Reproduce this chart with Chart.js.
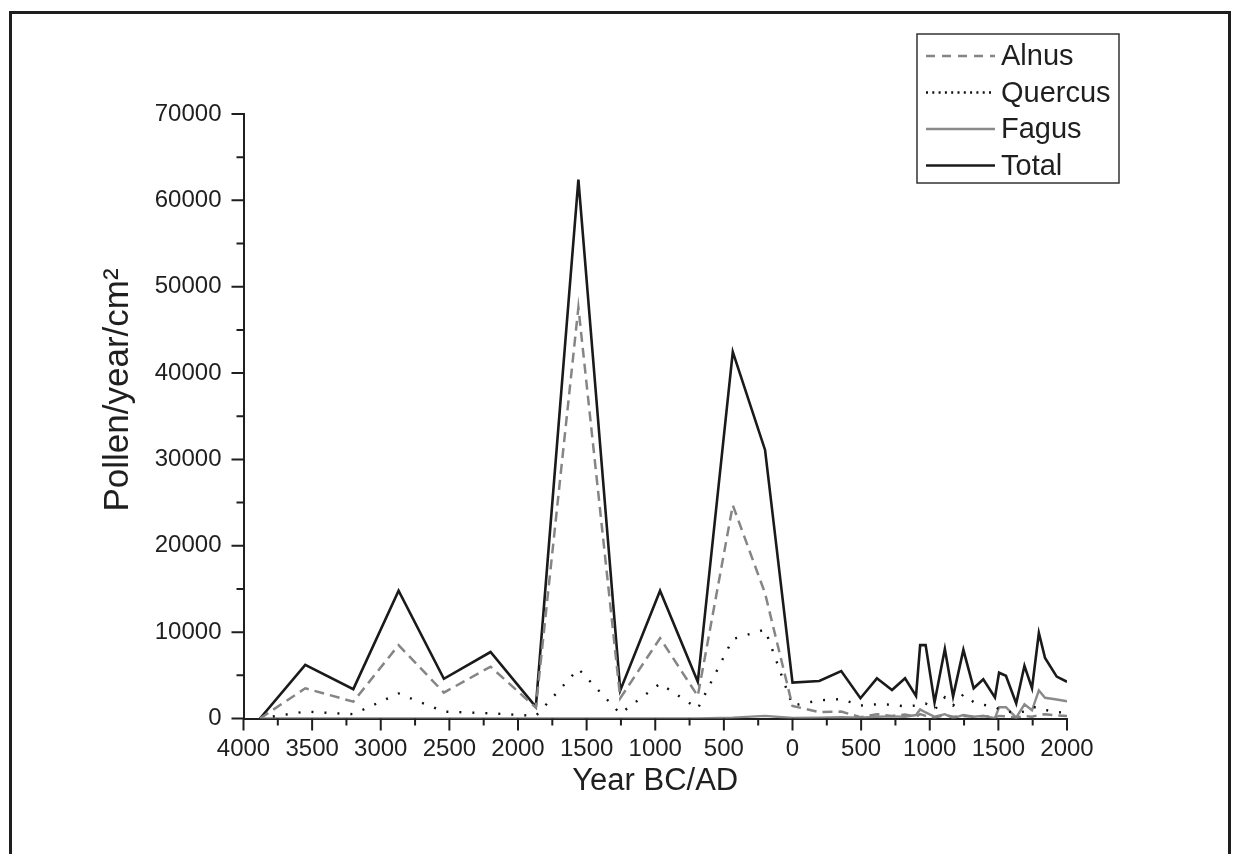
<!DOCTYPE html>
<html>
<head>
<meta charset="utf-8">
<script src="https://cdn.jsdelivr.net/npm/chart.js@4.4.0/dist/chart.umd.min.js"></script>
<style>
html, body { margin: 0; padding: 0; background: #fff; overflow: hidden; }
#wrap { position: relative; width: 1240px; height: 854px; }
#pollenChart { position: absolute; left: 0; top: 0; }
#frame { position: absolute; left: 9px; top: 11px; width: 1222px; height: 900px; border: 3px solid #1e1e1e; box-sizing: border-box; pointer-events: none; }
</style>
</head>
<body>
<div id="wrap">
  <canvas id="pollenChart" width="1240" height="854"></canvas>
  <div id="frame"></div>
</div>
<script>
// years BC are negative
const years = [-3880, -3550, -3200, -2870, -2540, -2200, -1870, -1560, -1255, -965, -690, -435, -200,
  0, 195, 355, 495, 615, 725, 820, 900, 930, 970, 1035, 1110, 1170, 1245, 1320, 1390, 1475, 1505,
  1555, 1630, 1690, 1745, 1795, 1840, 1925, 2000];

const alnus = [0, 3500, 1950, 8500, 3000, 6000, 1250, 47600, 2350, 9300, 2600, 24700, 14500,
  1450, 750, 800, 150, 500, 300, 450, 200, 500, 300, 100, 400, 200, 300, 200, 300, 150, 300,
  250, 100, 300, 200, 400, 500, 350, 300];

const quercus = [0, 800, 500, 2900, 800, 600, 300, 5750, 550, 4050, 1150, 9200, 10300,
  1500, 2100, 2250, 1500, 1650, 1600, 1400, 1500, 1700, 1750, 1000, 2450, 1500, 2800, 1900, 1600, 1300, 1100,
  800, 700, 800, 1300, 1300, 1000, 750, 650];

const fagus = [0, 0, 0, 0, 0, 0, 0, 0, 0, 0, 0, 100, 300,
  50, 100, 150, 100, 200, 250, 200, 400, 1050, 700, 200, 500, 50, 400, 200, 300, 50, 1300,
  1300, 100, 1650, 950, 3250, 2400, 2200, 2000];

const total = [0, 6200, 3400, 14800, 4600, 7700, 1350, 62400, 3250, 14800, 4250, 42450, 31100,
  4150, 4350, 5500, 2350, 4650, 3300, 4650, 2600, 8500, 8500, 1850, 8050, 2550, 7950, 3500, 4550, 2450, 5300,
  4950, 1750, 6100, 3500, 9900, 7000, 4850, 4250];

const ink = "#1f1f1f";
const family = "'Liberation Sans', Arial, sans-serif";
const yTitle = "Pollen/year/cm²";

function pts(vals) {
  return years.map((yr, i) => ({ x: yr, y: vals[i] }));
}

// small and big tick marks pointing outward, plus the rotated y title
const axisTicks = {
  id: "axisTicks",
  afterDraw(chart) {
    const { ctx, chartArea, scales } = chart;
    ctx.save();
    ctx.strokeStyle = ink;
    ctx.lineWidth = 2;
    ctx.beginPath();
    for (let v = -4000; v <= 2000; v += 250) {
      const px = scales.x.getPixelForValue(v);
      const len = v % 500 === 0 ? 12 : 7;
      ctx.moveTo(px, chartArea.bottom);
      ctx.lineTo(px, chartArea.bottom + len);
    }
    for (let v = 0; v <= 70000; v += 5000) {
      const py = scales.y.getPixelForValue(v);
      const len = v % 10000 === 0 ? 12 : 7;
      ctx.moveTo(chartArea.left, py);
      ctx.lineTo(chartArea.left - len, py);
    }
    ctx.stroke();

    ctx.translate(118, 390);
    ctx.rotate(-Math.PI / 2);
    ctx.font = "35px " + family;
    ctx.fillStyle = ink;
    ctx.textAlign = "center";
    ctx.textBaseline = "middle";
    ctx.fillText(yTitle, 0, 0);
    ctx.restore();
  }
};

// boxed legend in the top right corner
const boxLegend = {
  id: "boxLegend",
  afterDraw(chart) {
    const ctx = chart.ctx;
    ctx.save();
    ctx.fillStyle = "#fff";
    ctx.fillRect(917, 34, 202, 149);
    ctx.strokeStyle = "#333";
    ctx.lineWidth = 1.5;
    ctx.strokeRect(917, 34, 202, 149);
    ctx.font = "29px " + family;
    ctx.textBaseline = "middle";
    chart.data.datasets.forEach((ds, i) => {
      const yy = 56 + i * 36.5;
      ctx.beginPath();
      ctx.strokeStyle = ds.borderColor;
      ctx.lineWidth = ds.borderWidth;
      ctx.setLineDash(ds.legendDash);
      ctx.moveTo(926, yy);
      ctx.lineTo(995, yy);
      ctx.stroke();
      ctx.setLineDash([]);
      ctx.fillStyle = ink;
      ctx.fillText(ds.label, 1001, yy + 1);
    });
    ctx.restore();
  }
};

new Chart(document.getElementById("pollenChart"), {
  type: "line",
  data: {
    datasets: [
      { label: "Alnus", data: pts(alnus), borderColor: "#858585", borderWidth: 2.5, borderDash: [10, 6], legendDash: [9, 7] },
      { label: "Quercus", data: pts(quercus), borderColor: "#111", borderWidth: 2.4, borderDash: [2, 11], legendDash: [2, 4.3] },
      { label: "Fagus", data: pts(fagus), borderColor: "#8a8a8a", borderWidth: 2.4, borderDash: [], legendDash: [] },
      { label: "Total", data: pts(total), borderColor: "#1a1a1a", borderWidth: 2.6, borderDash: [], legendDash: [] }
    ]
  },
  options: {
    responsive: false,
    animation: false,
    elements: { point: { radius: 0 }, line: { tension: 0 } },
    layout: { padding: { top: 114, right: 173, left: 0, bottom: 0 } },
    plugins: { legend: { display: false }, tooltip: { enabled: false } },
    scales: {
      x: {
        type: "linear",
        min: -4000,
        max: 2000,
        afterFit(s) { s.height = 135.5; },
        grid: { display: false, drawTicks: false },
        border: { display: true, color: ink, width: 2 },
        ticks: {
          stepSize: 500, padding: 16, color: ink, maxRotation: 0, autoSkip: false,
          font: { family: family, size: 24 },
          callback: v => String(Math.abs(v))
        },
        title: { display: true, text: "Year BC/AD", color: ink, font: { family: family, size: 31 }, padding: { bottom: 54 } }
      },
      y: {
        min: 0,
        max: 70000,
        afterFit(s) { s.width = 243.5; },
        grid: { display: false, drawTicks: false },
        border: { display: true, color: ink, width: 2 },
        ticks: { stepSize: 10000, padding: 22, color: ink, font: { family: family, size: 24 }, callback: v => String(v) },
        title: { display: false }
      }
    }
  },
  plugins: [axisTicks, boxLegend]
});
</script>
</body>
</html>
